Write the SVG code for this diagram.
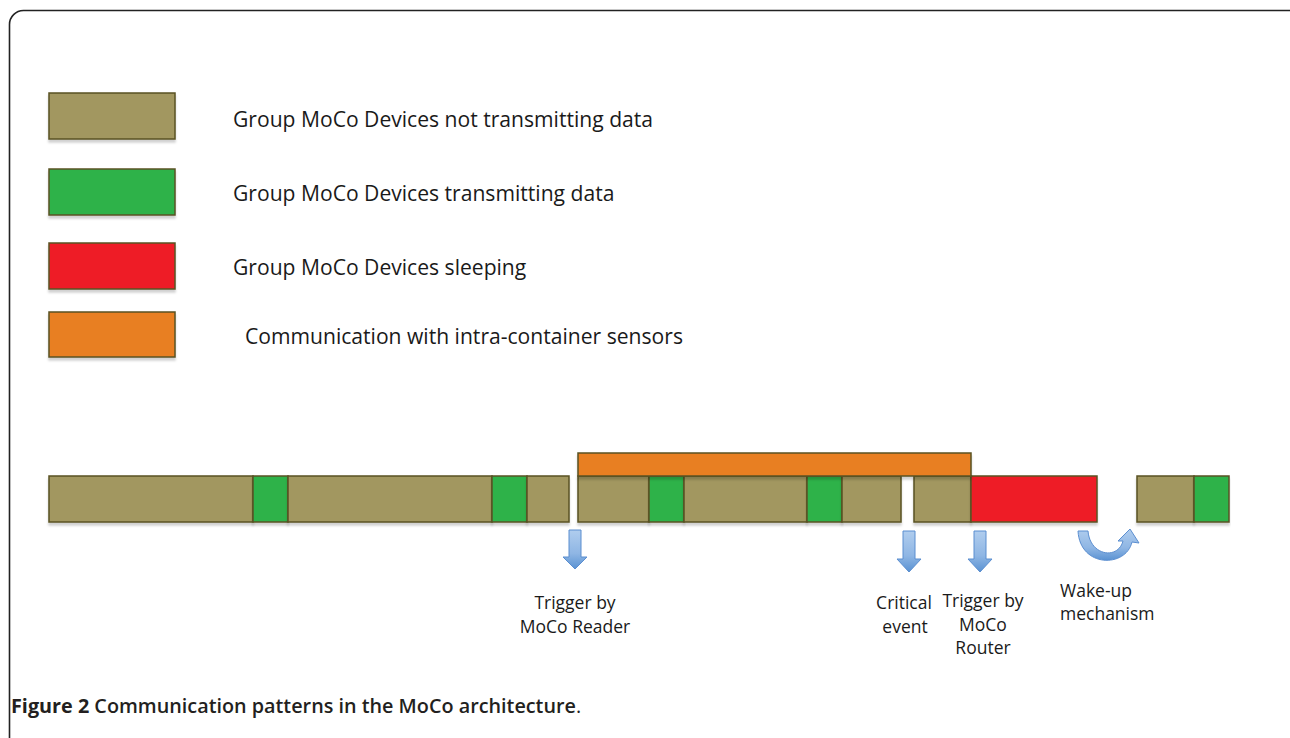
<svg xmlns="http://www.w3.org/2000/svg" width="1290" height="738" viewBox="0 0 1290 738">
  <style>
    .txt { font-family: "Open Sans", "Liberation Sans", sans-serif; fill: #1a1a1a; }
    .legend { font-size: 21.1px; }
    .lbl { font-size: 17.5px; }
    .cap { font-family: "Open Sans", "Liberation Sans", sans-serif; font-size: 19.8px; fill: #231f20; font-weight: 600; }
    .seg { stroke: #5a5224; stroke-width: 1.5; filter: url(#shadow); }
    .idle { fill: #a29760; }
    .tx { fill: #2db24a; }
    .sleep { fill: #ee1f25; }
    .intra { fill: #e87f24; }
    .blk { fill: url(#blue); stroke: #5b8ed0; stroke-width: 1; }
  </style>
  <defs>
    <filter id="shadow" x="-5%" y="-20%" width="110%" height="160%">
      <feDropShadow dx="0" dy="3" stdDeviation="1" flood-color="#000" flood-opacity="0.18"/>
    </filter>
    <linearGradient id="blue" x1="0" y1="0" x2="0" y2="1">
      <stop offset="0" stop-color="#b0cdee"/>
      <stop offset="0.6" stop-color="#8fb6e4"/>
      <stop offset="1" stop-color="#5a92d2"/>
    </linearGradient>
  </defs>

  <!-- figure frame -->
  <rect x="9.5" y="10.5" width="1300" height="800" rx="14" ry="14" fill="#fff" stroke="#222" stroke-width="1.6"/>

  <!-- legend -->
  <g id="legend-idle">
    <rect class="seg idle" x="49" y="93" width="126" height="46"/>
    <text class="txt legend" x="233" y="127">Group MoCo Devices not transmitting data</text>
  </g>
  <g id="legend-tx">
    <rect class="seg tx" x="49" y="169" width="126" height="46"/>
    <text class="txt legend" x="233" y="201">Group MoCo Devices transmitting data</text>
  </g>
  <g id="legend-sleep">
    <rect class="seg sleep" x="49" y="243" width="126" height="46"/>
    <text class="txt legend" x="233" y="275">Group MoCo Devices sleeping</text>
  </g>
  <g id="legend-intra">
    <rect class="seg intra" x="49" y="312" width="126" height="45"/>
    <text class="txt legend" x="245" y="344">Communication with intra-container sensors</text>
  </g>

  <!-- timeline -->
  <g id="seg-1"><rect class="seg idle" x="49" y="476" width="204" height="46"/></g>
  <g id="seg-2"><rect class="seg tx" x="253" y="476" width="35" height="46"/></g>
  <g id="seg-3"><rect class="seg idle" x="288" y="476" width="204" height="46"/></g>
  <g id="seg-4"><rect class="seg tx" x="492" y="476" width="35" height="46"/></g>
  <g id="seg-5"><rect class="seg idle" x="527" y="476" width="42" height="46"/></g>
  <g id="seg-6"><rect class="seg idle" x="578" y="476" width="71" height="46"/></g>
  <g id="seg-7"><rect class="seg tx" x="649" y="476" width="35" height="46"/></g>
  <g id="seg-8"><rect class="seg idle" x="684" y="476" width="123" height="46"/></g>
  <g id="seg-9"><rect class="seg tx" x="807" y="476" width="35" height="46"/></g>
  <g id="seg-10"><rect class="seg idle" x="842" y="476" width="59" height="46"/></g>
  <g id="seg-11"><rect class="seg idle" x="914" y="476" width="57" height="46"/></g>
  <g id="seg-12"><rect class="seg sleep" x="971" y="476" width="126" height="46"/></g>
  <g id="seg-13"><rect class="seg idle" x="1137" y="476" width="57" height="46"/></g>
  <g id="seg-14"><rect class="seg tx" x="1194" y="476" width="35" height="46"/></g>
  <g id="intra-bar"><rect class="seg intra" x="578" y="453" width="393" height="23"/></g>

  <!-- event markers -->
  <g id="connectors">
    <path class="blk" d="M569,530 H581 V557 H587 L575,569 L563,557 H569 Z"/>
    <path class="blk" d="M903,531 H915 V559 H921 L909,572 L897,559 H903 Z"/>
    <path class="blk" d="M974,531 H986 V559 H992 L980,572 L968,559 H974 Z"/>
    <path class="blk" d="M1078,531 L1088,531 C1090,556 1118,560 1123,541 L1118,541 L1130,529 L1139,543 L1132,542 C1126,568 1080,568 1078,531 Z"/>
  </g>

  <!-- marker labels -->
  <g id="label-reader">
    <text class="txt lbl" x="575" y="609" text-anchor="middle">Trigger by</text>
    <text class="txt lbl" x="575" y="633" text-anchor="middle">MoCo Reader</text>
  </g>
  <g id="label-critical">
    <text class="txt lbl" x="904" y="609" text-anchor="middle">Critical</text>
    <text class="txt lbl" x="905" y="633" text-anchor="middle">event</text>
  </g>
  <g id="label-router">
    <text class="txt lbl" x="983" y="607" text-anchor="middle">Trigger by</text>
    <text class="txt lbl" x="983" y="631" text-anchor="middle">MoCo</text>
    <text class="txt lbl" x="983" y="654" text-anchor="middle">Router</text>
  </g>
  <g id="label-wakeup">
    <text class="txt lbl" x="1060" y="597">Wake-up</text>
    <text class="txt lbl" x="1060" y="620">mechanism</text>
  </g>

  <!-- caption -->
  <text class="cap" x="11" y="713"><tspan font-weight="700">Figure 2</tspan> Communication patterns in the MoCo architecture<tspan font-weight="400">.</tspan></text>
</svg>
